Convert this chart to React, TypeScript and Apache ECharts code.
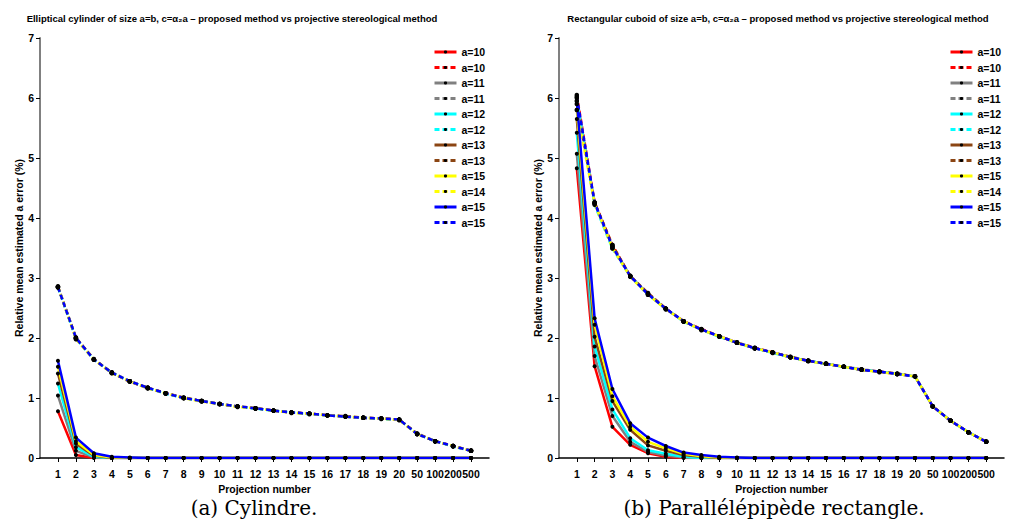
import React, { useEffect, useRef } from 'react';
import * as echarts from 'echarts';

const categories = ['1','2','3','4','5','6','7','8','9','10','11','12','13','14','15','16','17','18','19','20','50','100','200','500'];
const legendLabels = ['a=10','a=10','a=11','a=11','a=12','a=12','a=13','a=13','a=15','a=14','a=15','a=15'];
const lineColors = ['#ff0000','#ff0000','#808080','#808080','#00ffff','#00ffff','#8b4513','#8b4513','#ffff00','#ffff00','#0000ff','#0000ff'];
const yTicks = [0, 1, 2, 3, 4, 5, 6, 7];

const titleLeft = 'Elliptical cylinder of size a=b, c=α₂a – proposed method vs projective stereological method';
const titleRight = 'Rectangular cuboid of size a=b, c=α₂a – proposed method vs projective stereological method';
const captionLeft = '(a) Cylindre.';
const captionRight = '(b) Parallélépipède rectangle.';
const xName = 'Projection number';
const yName = 'Relative mean estimated a error (%)';

// Cylinder: proposed method (solid)
const cylSolid10 = [0.78,0.05,0.00,0,0,0,0,0,0,0,0,0,0,0,0,0,0,0,0,0,0,0,0,0];
const cylSolid11 = [1.04,0.12,0.01,0,0,0,0,0,0,0,0,0,0,0,0,0,0,0,0,0,0,0,0,0];
const cylSolid12 = [1.24,0.18,0.02,0,0,0,0,0,0,0,0,0,0,0,0,0,0,0,0,0,0,0,0,0];
const cylSolid13 = [1.41,0.24,0.04,0.00,0,0,0,0,0,0,0,0,0,0,0,0,0,0,0,0,0,0,0,0];
const cylSolid15y = [1.52,0.28,0.05,0.01,0,0,0,0,0,0,0,0,0,0,0,0,0,0,0,0,0,0,0,0];
const cylSolid15 = [1.62,0.34,0.08,0.02,0.01,0,0,0,0,0,0,0,0,0,0,0,0,0,0,0,0,0,0,0];
// Cylinder: projective stereological method (dashed)
const cylDash10 = [2.85,2.00,1.64,1.42,1.28,1.17,1.08,1.00,0.95,0.90,0.86,0.83,0.79,0.76,0.74,0.71,0.69,0.67,0.66,0.64,0.40,0.28,0.20,0.12];
const cylDash11 = [2.86,2.01,1.64,1.43,1.28,1.16,1.08,1.00,0.95,0.90,0.86,0.83,0.79,0.76,0.74,0.71,0.69,0.67,0.66,0.64,0.40,0.28,0.20,0.12];
const cylDash12 = [2.84,1.99,1.64,1.42,1.28,1.17,1.07,1.00,0.95,0.90,0.86,0.82,0.79,0.76,0.73,0.71,0.69,0.67,0.65,0.64,0.40,0.28,0.19,0.12];
const cylDash13 = [2.85,2.00,1.65,1.42,1.27,1.17,1.08,1.01,0.95,0.90,0.86,0.83,0.79,0.76,0.74,0.71,0.70,0.67,0.66,0.64,0.41,0.28,0.20,0.12];
const cylDash14 = [2.86,1.98,1.64,1.41,1.28,1.16,1.08,1.00,0.94,0.90,0.85,0.83,0.79,0.75,0.74,0.71,0.69,0.67,0.66,0.63,0.40,0.28,0.20,0.12];
const cylDash15 = [2.85,2.00,1.64,1.42,1.28,1.17,1.08,1.00,0.95,0.90,0.86,0.83,0.79,0.76,0.74,0.71,0.69,0.67,0.66,0.64,0.40,0.28,0.20,0.12];

// Cuboid: proposed method (solid)
const cubSolid10 = [4.83,1.53,0.52,0.22,0.08,0.02,0.00,0,0,0,0,0,0,0,0,0,0,0,0,0,0,0,0,0];
const cubSolid11 = [5.07,1.70,0.70,0.27,0.10,0.04,0.01,0,0,0,0,0,0,0,0,0,0,0,0,0,0,0,0,0];
const cubSolid12 = [5.42,1.86,0.81,0.33,0.13,0.07,0.02,0.00,0,0,0,0,0,0,0,0,0,0,0,0,0,0,0,0];
const cubSolid13 = [5.65,2.02,0.95,0.47,0.21,0.12,0.05,0.02,0.00,0,0,0,0,0,0,0,0,0,0,0,0,0,0,0];
const cubSolid15y = [5.80,2.22,1.03,0.52,0.27,0.16,0.07,0.03,0.01,0,0,0,0,0,0,0,0,0,0,0,0,0,0,0];
const cubSolid15 = [5.95,2.33,1.15,0.58,0.34,0.20,0.09,0.05,0.02,0.01,0,0,0,0,0,0,0,0,0,0,0,0,0,0];
// Cuboid: projective stereological method (dashed)
const cubDash10 = [6.05,4.26,3.55,3.03,2.74,2.49,2.28,2.15,2.03,1.92,1.84,1.76,1.68,1.62,1.57,1.52,1.47,1.44,1.40,1.36,0.86,0.62,0.43,0.27];
const cubDash11 = [6.00,4.24,3.52,3.04,2.73,2.48,2.28,2.14,2.03,1.93,1.83,1.76,1.68,1.62,1.57,1.52,1.48,1.44,1.40,1.36,0.86,0.62,0.43,0.27];
const cubDash12 = [5.95,4.22,3.49,3.03,2.72,2.49,2.27,2.14,2.02,1.92,1.83,1.75,1.68,1.62,1.57,1.52,1.47,1.44,1.40,1.36,0.86,0.62,0.43,0.27];
const cubDash13 = [5.90,4.26,3.55,3.03,2.75,2.49,2.28,2.14,2.03,1.92,1.83,1.76,1.69,1.62,1.57,1.52,1.47,1.44,1.41,1.36,0.86,0.62,0.43,0.27];
const cubDash14 = [5.80,4.24,3.50,3.02,2.72,2.48,2.28,2.13,2.03,1.92,1.83,1.76,1.68,1.61,1.57,1.52,1.47,1.43,1.40,1.36,0.86,0.62,0.43,0.27];
const cubDash15 = [6.02,4.26,3.52,3.03,2.73,2.49,2.28,2.14,2.03,1.92,1.83,1.76,1.68,1.62,1.57,1.52,1.47,1.44,1.40,1.36,0.86,0.62,0.43,0.27];

const cylSeries = [cylSolid10, cylDash10, cylSolid11, cylDash11, cylSolid12, cylDash12, cylSolid13, cylDash13, cylSolid15y, cylDash14, cylSolid15, cylDash15];
const cubSeries = [cubSolid10, cubDash10, cubSolid11, cubDash11, cubSolid12, cubDash12, cubSolid13, cubDash13, cubSolid15y, cubDash14, cubSolid15, cubDash15];

const FONT = 'Liberation Sans, Arial, sans-serif';
const SERIF = 'DejaVu Serif, serif';
const ZW = '\u200b';

function seriesName(chart: number, i: number) {
  return legendLabels[i] + ZW.repeat(chart * 12 + i + 1);
}

function buildSeries(chart: number, sets: number[][]) {
  return sets.map((vals, i) => ({
    name: seriesName(chart, i),
    type: 'line',
    xAxisIndex: chart,
    yAxisIndex: chart,
    data: vals.map((v, k) => [k + 1, v]),
    symbol: 'circle',
    symbolSize: i % 2 ? 4.5 : 4,
    itemStyle: { color: '#000000' },
    lineStyle: { color: lineColors[i], width: 2.5, type: i % 2 ? [5, 3] : 'solid' },
    emphasis: { disabled: true },
  }));
}

const catIdx = categories.map((_, k) => k + 1);

function xAxis(chart: number) {
  return {
    type: 'value',
    gridIndex: chart,
    min: 0,
    max: categories.length + 1,
    interval: 1,
    name: xName,
    nameLocation: 'middle',
    nameGap: 20,
    nameTextStyle: { fontFamily: FONT, fontWeight: 'bold', fontSize: 10.5, color: '#000' },
    axisLine: { show: true, lineStyle: { color: '#000', width: 1.5 } },
    axisTick: { show: true, customValues: catIdx, length: 4, lineStyle: { color: '#000', width: 1 } },
    axisLabel: {
      customValues: catIdx,
      formatter: (v: number) => categories[Math.round(v) - 1] ?? '',
      fontFamily: FONT, fontWeight: 'bold', fontSize: 10.5, color: '#000', margin: 10,
    },
    splitLine: { show: false },
  };
}

function yAxis(chart: number) {
  return {
    type: 'value',
    gridIndex: chart,
    min: 0,
    max: 7,
    interval: 1,
    name: yName,
    nameLocation: 'middle',
    nameGap: 16,
    nameTextStyle: { fontFamily: FONT, fontWeight: 'bold', fontSize: 10.5, color: '#000' },
    axisLine: { show: true, lineStyle: { color: '#808080', width: 2 } },
    axisTick: { show: true, length: 4, lineStyle: { color: '#000', width: 1 } },
    axisLabel: { fontFamily: FONT, fontWeight: 'bold', fontSize: 10.5, color: '#000', margin: 6,
      formatter: (v: number) => (yTicks.includes(v) ? String(v) : '') },
    splitLine: { show: false },
  };
}

function legend(chart: number, left: number) {
  return {
    data: legendLabels.map((_, i) => seriesName(chart, i)),
    orient: 'vertical',
    left,
    top: 46.5,
    padding: 0,
    itemWidth: 22,
    itemHeight: 4,
    itemGap: 4.5,
    selectedMode: false,
    lineStyle: { width: 3 },
    formatter: (n: string) => n.replace(/\u200b/g, ''),
    textStyle: { fontFamily: FONT, fontWeight: 'bold', fontSize: 10.5, color: '#000' },
  };
}

export default function App() {
  const ref = useRef<HTMLDivElement>(null);
  useEffect(() => {
    document.body.style.margin = '0';
    const chart = echarts.init(ref.current!, undefined, { renderer: 'svg' });
    chart.setOption({
      animation: false,
      backgroundColor: '#ffffff',
      grid: [
        { left: 40, right: 533, top: 38, bottom: 62 },
        { left: 559, right: 18, top: 38, bottom: 62 },
      ],
      xAxis: [xAxis(0), xAxis(1)],
      yAxis: [yAxis(0), yAxis(1)],
      legend: [legend(0, 433), legend(1, 949)],
      series: [...buildSeries(0, cylSeries), ...buildSeries(1, cubSeries)],
      graphic: [
        { type: 'text', x: 232, y: 18, style: { text: titleLeft, align: 'center', verticalAlign: 'middle', fontFamily: FONT, fontWeight: 'bold', fontSize: 9.5, fill: '#000' } },
        { type: 'text', x: 778, y: 18, style: { text: titleRight, align: 'center', verticalAlign: 'middle', fontFamily: FONT, fontWeight: 'bold', fontSize: 9.5, fill: '#000' } },
        { type: 'text', x: 254, y: 508, style: { text: captionLeft, align: 'center', verticalAlign: 'middle', fontFamily: SERIF, fontSize: 20, fill: '#000' } },
        { type: 'text', x: 774, y: 508, style: { text: captionRight, align: 'center', verticalAlign: 'middle', fontFamily: SERIF, fontSize: 20, fill: '#000' } },
      ],
    });
    return () => chart.dispose();
  }, []);
  return <div ref={ref} style={{ width: 1022, height: 520 }} />;
}
